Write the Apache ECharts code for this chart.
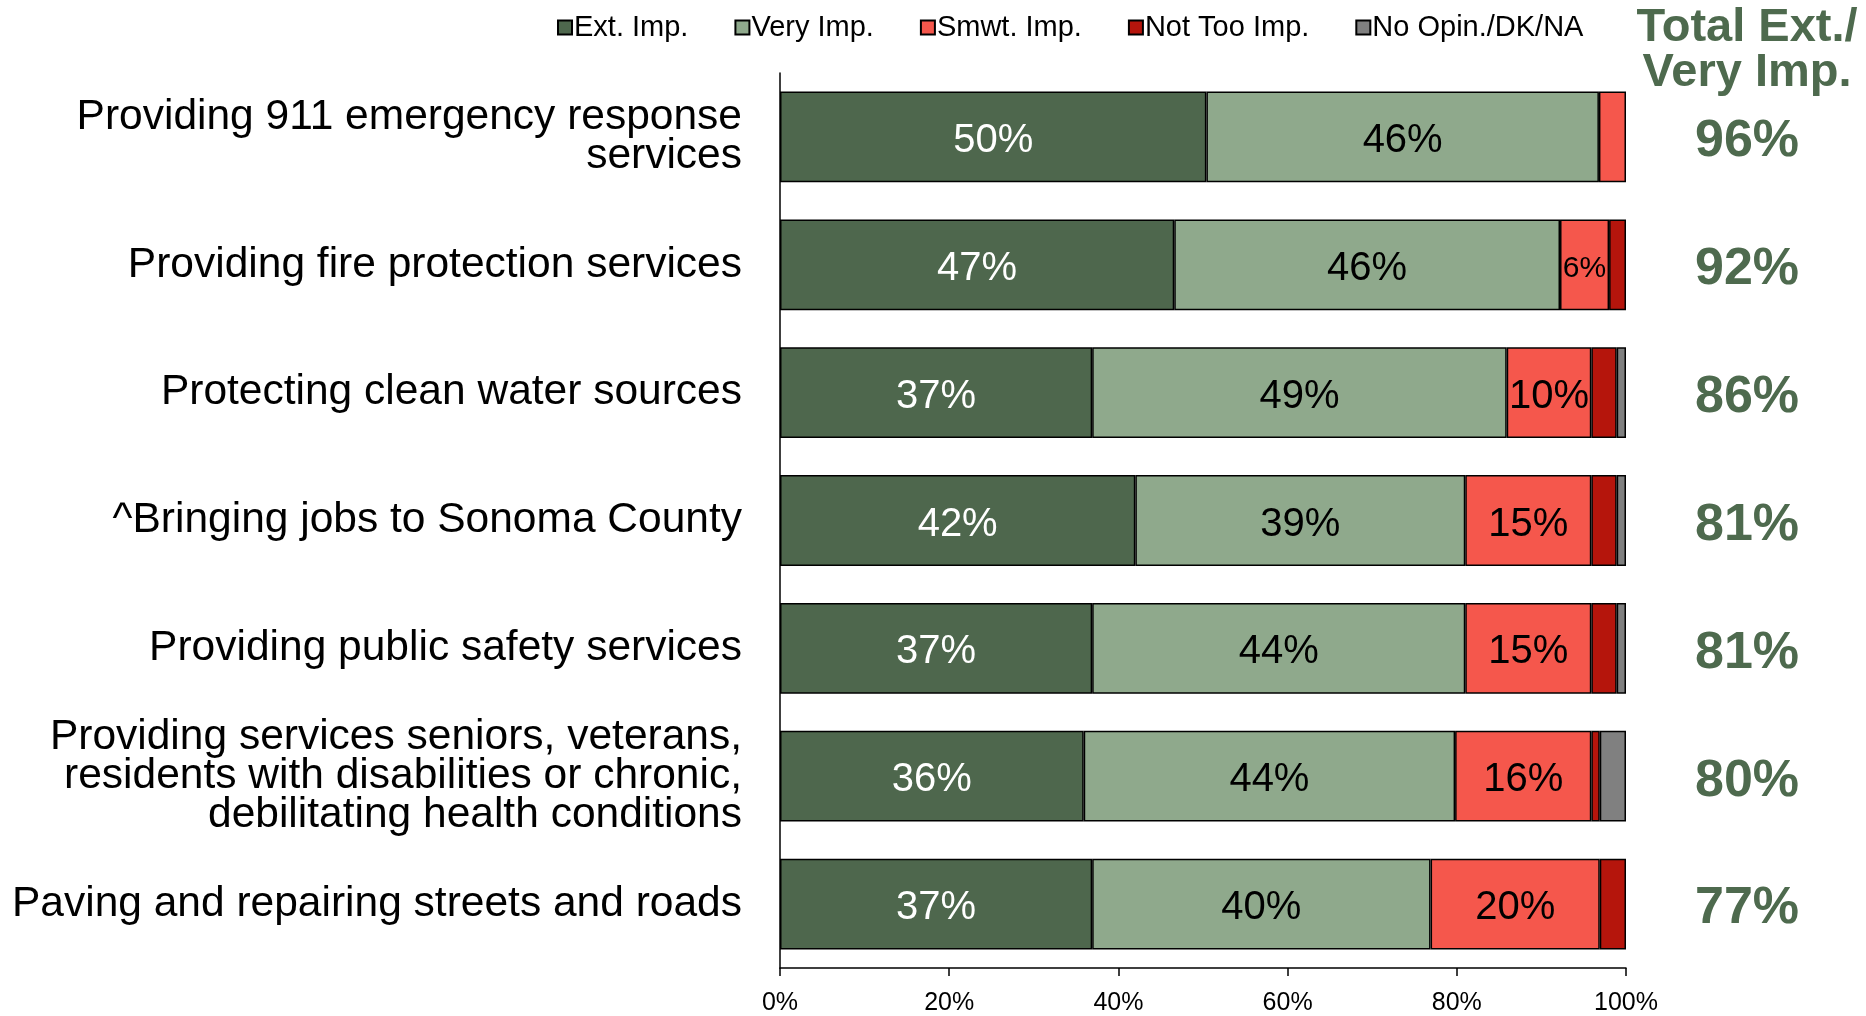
<!DOCTYPE html>
<html>
<head>
<meta charset="utf-8">
<script src="https://cdn.jsdelivr.net/npm/echarts@6/dist/echarts.min.js"></script>
<style>
  html, body { margin: 0; padding: 0; background: #fff; }
  #chart { width: 1866px; height: 1016px; }
</style>
</head>
<body>
<div id="chart"></div>
<script>
const categories = [
  "Providing 911 emergency response\nservices",
  "Providing fire protection services",
  "Protecting clean water sources",
  "^Bringing jobs to Sonoma County",
  "Providing public safety services",
  "Providing services seniors, veterans,\nresidents with disabilities or chronic,\ndebilitating health conditions",
  "Paving and repairing streets and roads"
];
const seriesNames = ["Ext. Imp.", "Very Imp.", "Smwt. Imp.", "Not Too Imp.", "No Opin./DK/NA"];
const extImp   = [50.4, 46.6, 36.9, 42.0, 36.9, 35.9, 36.9];
const veryImp  = [46.4, 45.6, 49.0, 39.0, 44.1, 43.9, 40.0];
const smwtImp  = [3.2, 5.8, 10.0, 14.9, 14.9, 16.1, 20.0];
const notTooImp = [0, 2.0, 3.0, 3.0, 3.0, 1.0, 3.1];
const noOpinion = [0, 0, 1.1, 1.1, 1.1, 3.1, 0];
const totals = ["96%", "92%", "86%", "81%", "81%", "80%", "77%"];
const xTicks = [0, 20, 40, 60, 80, 100];

const colors = ["#4E674D", "#8FA98C", "#F5574C", "#B5150C", "#808080"];
const labelColors = ["#ffffff", "#000000", "#000000", "#000000", "#000000"];
const values = [extImp, veryImp, smwtImp, notTooImp, noOpinion];
const FONT = '"Liberation Sans", Arial, sans-serif';

const series = values.map((arr, si) => ({
  name: seriesNames[si],
  type: 'bar',
  stack: 'total',
  barCategoryGap: '29%',
  itemStyle: { color: colors[si], borderColor: '#000', borderWidth: 1.5 },
  data: arr.map(v => {
    if (!v) return '-';
    const item = { value: v };
    if (v >= 9) {
      item.label = { show: true, fontSize: 40 };
    } else if (v >= 5) {
      item.label = { show: true, fontSize: 30 };
    } else {
      item.label = { show: false };
    }
    return item;
  }),
  label: {
    position: 'inside',
    offset: [0, 4],
    color: labelColors[si],
    fontFamily: FONT,
    formatter: p => Math.round(p.value) + '%'
  },
  emphasis: { disabled: true }
}));

const chart = echarts.init(document.getElementById('chart'), null, { renderer: 'canvas' });
chart.setOption({
  animation: false,
  backgroundColor: '#ffffff',
  textStyle: { fontFamily: FONT },
  legend: {
    data: seriesNames,
    left: 552,
    top: 8,
    itemWidth: 14,
    itemHeight: 14,
    itemGap: 46,
    icon: 'rect',
    textStyle: { fontSize: 29, color: '#000', padding: [0, 0, 0, -3] },
    selectedMode: false
  },
  grid: { left: 780, right: 240, top: 73, bottom: 45, containLabel: false },
  xAxis: {
    type: 'value',
    min: 0,
    max: 100,
    interval: 20,
    axisLine: { show: true, lineStyle: { color: '#000', width: 1.5 } },
    axisTick: { show: true, length: 8, lineStyle: { color: '#000', width: 1.5 } },
    splitLine: { show: false },
    axisLabel: { formatter: v => xTicks.includes(v) ? v + '%' : '', fontSize: 25, color: '#000', margin: 23 }
  },
  yAxis: [
    {
      type: 'category',
      data: categories,
      inverse: true,
      axisLine: { show: true, lineStyle: { color: '#000', width: 1.5 } },
      axisTick: { show: false },
      axisLabel: { fontSize: 42.5, color: '#000', margin: 38, lineHeight: 39, align: 'right' }
    },
    {
      type: 'category',
      data: totals,
      inverse: true,
      position: 'right',
      axisLine: { show: false },
      axisTick: { show: false },
      axisLabel: {
        align: 'center',
        margin: 121,
        formatter: v => '{t|' + v + '}',
        rich: {
          t: { fontSize: 52, fontWeight: 'bold', color: '#4E6A4E', fontFamily: FONT, padding: [10, 0, 0, 0] }
        }
      }
    }
  ],
  graphic: [{
    type: 'text',
    x: 1747,
    y: 6,
    style: {
      text: 'Total Ext./\nVery Imp.',
      textAlign: 'center',
      textVerticalAlign: 'top',
      fontSize: 47,
      fontWeight: 'bold',
      fontFamily: FONT,
      lineHeight: 45,
      fill: '#4E6A4E'
    }
  }],
  series: series
});
</script>
</body>
</html>
